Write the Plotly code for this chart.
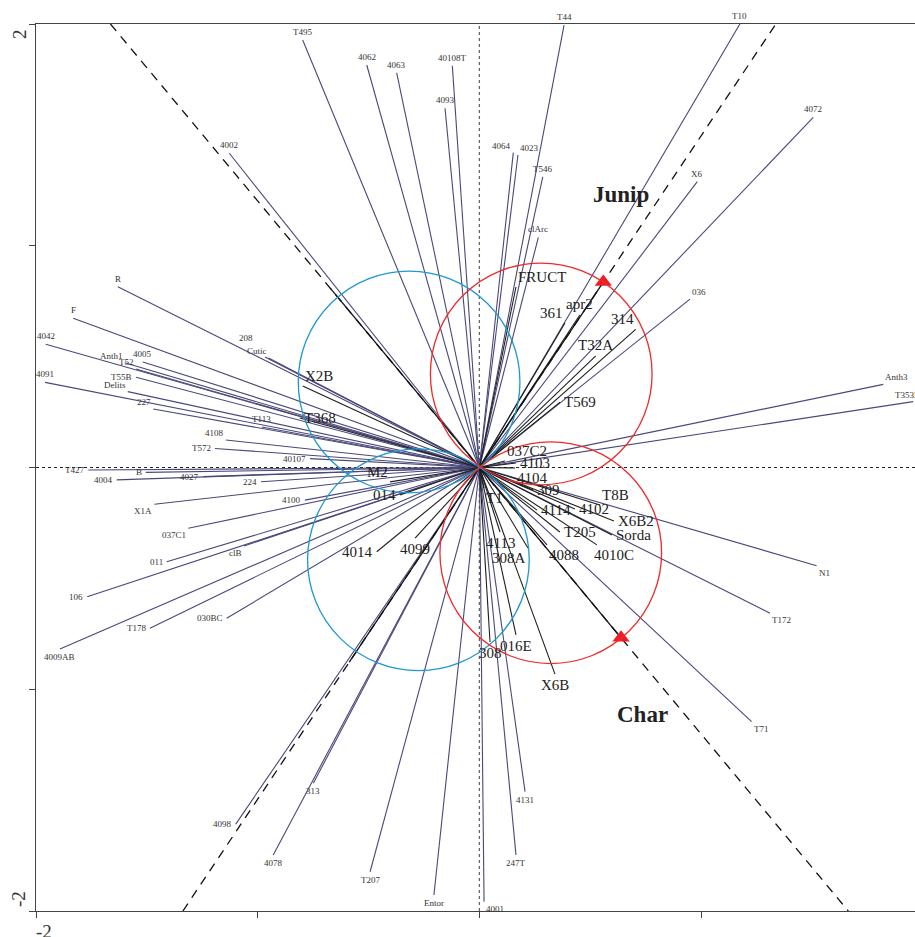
import math
import plotly.graph_objects as go

# ---------------- data ----------------
# outer (active) variables: small labels
outer_names = ["T495", "4062", "4063", "40108T", "4093", "4064", "4023", "T546", "clArc", "T44",
               "T10", "4072", "X6", "036", "4002", "R", "F", "4042", "Anth1", "4005",
               "T52", "T55B", "4091", "Delits", "227", "T113", "4108", "T572", "40107", "T427",
               "B", "4004", "4027", "224", "X1A", "4100", "037C1", "011", "clB", "106",
               "4009AB", "T178", "030BC", "4098", "4078", "313", "T207", "Entor", "4001", "247T",
               "4131", "T71", "T172", "N1", "Anth3", "T353B", "208", "Cutic"]
outer_x = [-0.797, -0.508, -0.373, -0.122, -0.155, 0.153, 0.174, 0.286, 0.266, 0.382,
           1.175, 1.506, 0.983, 0.950, -1.128, -1.631, -1.832, -1.956, -1.600, -1.518,
           -1.549, -1.549, -1.959, -1.586, -1.471, -0.981, -1.144, -1.193, -0.764, -1.764,
           -1.505, -1.636, -1.245, -0.985, -1.466, -0.787, -1.313, -1.410, -1.062, -1.769,
           -1.892, -1.486, -1.140, -1.099, -0.930, -0.749, -0.493, -0.205, 0.021, 0.165,
           0.206, 1.228, 1.311, 1.521, 1.822, 1.957, -0.967, -0.951]
outer_y = [1.928, 1.815, 1.780, 1.812, 1.620, 1.420, 1.409, 1.311, 1.038, 1.995,
           2.000, 1.579, 1.289, 0.759, 1.417, 0.815, 0.673, 0.556, 0.472, 0.476,
           0.444, 0.407, 0.384, 0.342, 0.264, 0.183, 0.124, 0.086, 0.040, -0.011,
           -0.022, -0.056, -0.041, -0.064, -0.166, -0.147, -0.274, -0.425, -0.354, -0.583,
           -0.819, -0.725, -0.680, -1.608, -1.747, -1.424, -1.823, -1.928, -1.958, -1.747,
           -1.462, -1.146, -0.657, -0.443, 0.375, 0.297, 0.498, 0.494]

# inner variables: large labels
inner_names = ["FRUCT", "361", "apr2", "314", "T32A", "T569", "X2B", "T368", "M2", "014",
               "4014", "4099", "037C2", "4103", "4104", "309", "T1", "T8B", "4114", "4102",
               "X6B2", "T205", "Sorda", "4088", "4010C", "4113", "308A", "016E", "308", "X6B"]
inner_x = [0.165, 0.386, 0.453, 0.705, 0.525, 0.364, -0.797, -0.810, -0.403, -0.358,
           -0.463, -0.290, 0.115, 0.165, 0.161, 0.242, 0.021, 0.544, 0.260, 0.431,
           0.607, 0.363, 0.598, 0.305, 0.530, 0.093, 0.219, 0.165, 0.048, 0.341]
inner_y = [0.814, 0.652, 0.688, 0.623, 0.503, 0.295, 0.368, 0.223, -0.065, -0.124,
           -0.380, -0.319, 0.029, 0.020, -0.002, -0.101, -0.092, -0.169, -0.192, -0.187,
           -0.241, -0.291, -0.304, -0.349, -0.349, -0.291, -0.363, -0.755, -0.787, -0.932]

# supplementary variables
sup_names = ["Junip", "Char"]
sup_x = [0.559, 0.639]
sup_y = [0.836, -0.768]

# circles (centre, radius)
circle_cx = [-0.317, -0.275, 0.279, 0.322]
circle_cy = [0.386, -0.416, 0.422, -0.384]
circle_r = [0.5, 0.5, 0.5, 0.5]

# ---------------- styling / placement ----------------
FONT = "Liberation Serif"
OUTER_COL = "#4a4879"
INNER_COL = "#1e1e1e"
TEXT_COL = "#333333"
CIRCLE_COLS = ["#1f98cf", "#1f98cf", "#ee2a2a", "#ee2a2a"]

# label placement: compass side, optional extra pixel shift
LABEL_POS = {
    "T55B": "w", "Delits": "nw", "227": "nw", "4108": "nw", "T572": "w", "40107": "w",
    "208": ("nw", -10, 12), "Cutic": "nw", "X1A": "sw", "037C1": "sw", "clB": "sw", "4009AB": "s",
    "4100": "w", "036": "ne", "Anth3": "ne", "T353B": ("ne", -20, 0), "4001": "se",
    "4064": "nw", "4023": "ne", "Anth1": "nw", "T52": "nw",
    "FRUCT": "ne", "361": "nw", "apr2": "n", "314": "nw", "T32A": "n", "T569": "e",
    "X2B": "ne", "T368": "e", "M2": "nw", "014": "w", "4014": "w", "4099": "s",
    "037C2": "ne", "4103": "e", "4104": "se", "309": "e", "T1": "se", "T8B": "ne",
    "4114": "e", "4102": "e", "X6B2": "e", "T205": "e", "Sorda": "e", "4088": "se",
    "4010C": ("se", -5, 0), "4113": "s", "308A": "sw", "016E": "s", "308": "s", "X6B": "s",
}

ANCH = {
    "n": ("center", "bottom", 0, 1), "s": ("center", "top", 0, -1),
    "w": ("right", "middle", -2, 0), "e": ("left", "middle", 2, 0),
    "nw": ("right", "bottom", 0, 0), "ne": ("left", "bottom", 0, 0),
    "sw": ("right", "top", 0, 0), "se": ("left", "top", 0, 0),
}


def default_pos(x, y):
    if y >= 0:
        return "n"
    if abs(x) > abs(y) * 0.6:
        return "w" if x < 0 else "se"
    return "s"


def spokes(xs, ys):
    lx, ly = [], []
    for x, y in zip(xs, ys):
        lx += [0, x, None]
        ly += [0, y, None]
    return lx, ly


fig = go.Figure()

X_RANGE = [-2, 1.965]
Y_RANGE = [-2, 2]

# reference axes through origin
fig.add_shape(type="line", x0=0, x1=0, y0=-2, y1=2, line=dict(color="#666", width=1.3, dash="dot"), layer="below")
fig.add_shape(type="line", x0=-2, x1=X_RANGE[1], y0=0, y1=0, line=dict(color="#222", width=1.1, dash="3px,3px"), layer="below")

# dashed axes of supplementary variables
for vx, vy in zip(sup_x, sup_y):
    t = 2 / abs(vy)
    fig.add_trace(go.Scatter(x=[-t * vx, t * vx], y=[-t * vy, t * vy], mode="lines",
                             line=dict(color="#111", width=1.3, dash="9px,7px"),
                             hoverinfo="skip", showlegend=False))

# spokes
ox, oy = spokes(outer_x, outer_y)
fig.add_trace(go.Scatter(x=ox, y=oy, mode="lines", line=dict(color=OUTER_COL, width=1.1),
                         hoverinfo="skip", showlegend=False))
ix, iy = spokes(inner_x, inner_y)
fig.add_trace(go.Scatter(x=ix, y=iy, mode="lines", line=dict(color=INNER_COL, width=1.1),
                         hoverinfo="skip", showlegend=False))

# solid segments of supplementary vectors
sx, sy = [], []
for vx, vy in zip(sup_x, sup_y):
    sx += [-1.05 * vx, vx, None]
    sy += [-1.05 * vy, vy, None]
fig.add_trace(go.Scatter(x=sx, y=sy, mode="lines", line=dict(color="#111", width=1.3),
                         hoverinfo="skip", showlegend=False))

# circles
for cx, cy, r, col in zip(circle_cx, circle_cy, circle_r, CIRCLE_COLS):
    fig.add_shape(type="circle", x0=cx - r, x1=cx + r, y0=cy - r, y1=cy + r,
                  line=dict(color=col, width=1.3))

# triangles
fig.add_trace(go.Scatter(x=sup_x, y=sup_y, mode="markers",
                         marker=dict(symbol="triangle-up", size=15, color="#ee1c25"),
                         hoverinfo="skip", showlegend=False))

annotations = []


def add_labels(names, xs, ys, size, color):
    for n, x, y in zip(names, xs, ys):
        pos = LABEL_POS.get(n, default_pos(x, y))
        ex, ey = 0, 0
        if isinstance(pos, tuple):
            pos, ex, ey = pos
        xa, ya, dx, dy = ANCH[pos]
        annotations.append(dict(x=x, y=y, text=n, showarrow=False, xanchor=xa, yanchor=ya,
                                xshift=dx + ex, yshift=dy + ey,
                                font=dict(family=FONT, size=size, color=color)))


add_labels(outer_names, outer_x, outer_y, 9, TEXT_COL)
add_labels(inner_names, inner_x, inner_y, 15, "#222")

# supplementary labels
SUP_LABEL_XY = [(0.639, 1.233), (0.737, -1.116)]
for n, (lx, ly) in zip(sup_names, SUP_LABEL_XY):
    annotations.append(dict(x=lx, y=ly, text="<b>%s</b>" % n, showarrow=False,
                            font=dict(family=FONT, size=23, color="#222")))

# axis end labels
annotations.append(dict(x=-2, y=2, text="2", showarrow=False, textangle=-90, xshift=-17, yshift=-10,
                        font=dict(family=FONT, size=19, color="#333")))
annotations.append(dict(x=-2, y=-2, text="-2", showarrow=False, textangle=-90, xshift=-18, yshift=12,
                        font=dict(family=FONT, size=19, color="#333")))
annotations.append(dict(x=-2, y=-2, text="-2", showarrow=False, xshift=8, yshift=-20,
                        font=dict(family=FONT, size=19, color="#333")))

fig.update_layout(
    width=915, height=937,
    margin=dict(l=36, r=0, t=24, b=26),
    paper_bgcolor="white", plot_bgcolor="white",
    showlegend=False,
    annotations=annotations,
    xaxis=dict(range=X_RANGE, showgrid=False, zeroline=False, showline=True, linecolor="#444",
               linewidth=1.3, mirror=True, ticks="outside", ticklen=6, tickcolor="#444",
               tickvals=[-2, -1, 0, 1], showticklabels=False),
    yaxis=dict(range=Y_RANGE, showgrid=False, zeroline=False, showline=True, linecolor="#444",
               linewidth=1.3, mirror=False, ticks="outside", ticklen=6, tickcolor="#444",
               tickvals=[-2, -1, 0, 1, 2], showticklabels=False),
)

# remove the default page margin so the figure fills the window exactly
fig.write_html("out.html",
               config={"displayModeBar": False, "staticPlot": True},
               post_script="document.body.style.margin='0';document.body.style.overflow='hidden';")
